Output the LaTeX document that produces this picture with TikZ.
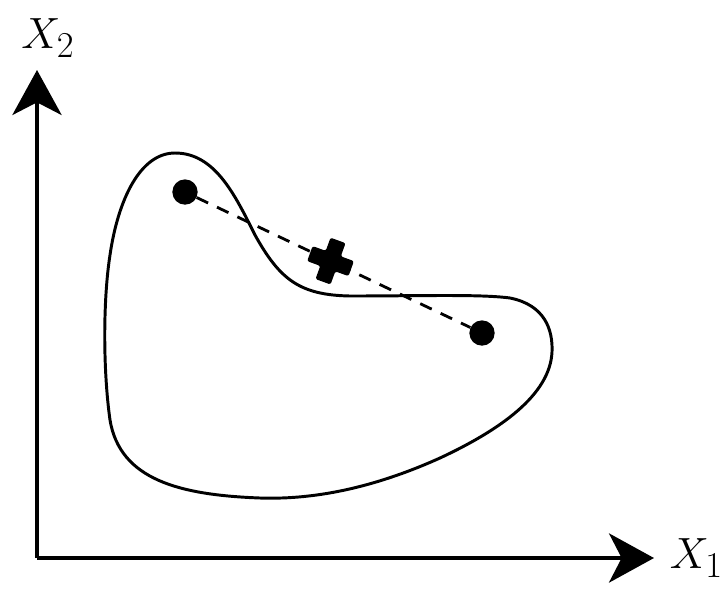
\documentclass[tikz,border=0pt]{standalone}
\usetikzlibrary{arrows.meta,positioning,calc}
\tikzset{
    axis/.style={
        -{Stealth[length=32pt,width=35pt,inset=9pt]},
        line width=2.6pt
    },
    region/.style={line width=2.1pt},
    sample/.style={
        circle,
        fill,
        inner sep=0pt,
        minimum size=18pt
    },
    link/.style={line width=2pt, dash pattern=on 9pt off 7pt},
    axislabel/.style={font=\Huge, scale=1.25, inner sep=0pt}
}

\begin{document}
\begin{tikzpicture}[x=0.025cm, y=-0.025cm]
        \useasboundingbox (0,0) rectangle (724,588);
        \coordinate (origin) at (37,558);
        \coordinate (ytip) at (37,70);
        \coordinate (xtip) at (654,558);

        % axes
        \draw[axis] (origin) -- (ytip);
        \draw[axis] (origin) -- (xtip);
        \node[axislabel] (xtwo) at (48,38) {$X_2$};
        \node[axislabel, right=11pt of xtip] (xone) {$X_1$};

        % the set
        \draw[region] (175,153) .. controls (215,153) and (235,195) .. (255,235)
            .. controls (280,280) and (300,295) .. (350,296)
            .. controls (420,296) and (480,294) .. (510,298)
            .. controls (545,305) and (553,330) .. (552,352)
            .. controls (550,395) and (500,430) .. (440,458)
            .. controls (380,485) and (320,500) .. (260,498)
            .. controls (180,495) and (120,480) .. (110,420)
            .. controls (103,370) and (103,300) .. (110,255)
            .. controls (118,200) and (140,153) .. (175,153) -- cycle;

        % two points and their mean
        \node[sample] (pa) at (185,192) {};
        \node[sample] (pb) at (482,333) {};
        \draw[link] (pa) -- (pb);
        \coordinate (mean) at ($(pa)!0.49!(pb)$);
        \begin{scope}[shift={(mean)}, rotate=-20]
            \fill[rounded corners=1.5pt] (-8,-22) -- (8,-22) -- (8,-8) -- (22,-8) -- (22,8)
                -- (8,8) -- (8,22) -- (-8,22) -- (-8,8) -- (-22,8) -- (-22,-8)
                -- (-8,-8) -- cycle;
        \end{scope}
\end{tikzpicture}
\end{document}
